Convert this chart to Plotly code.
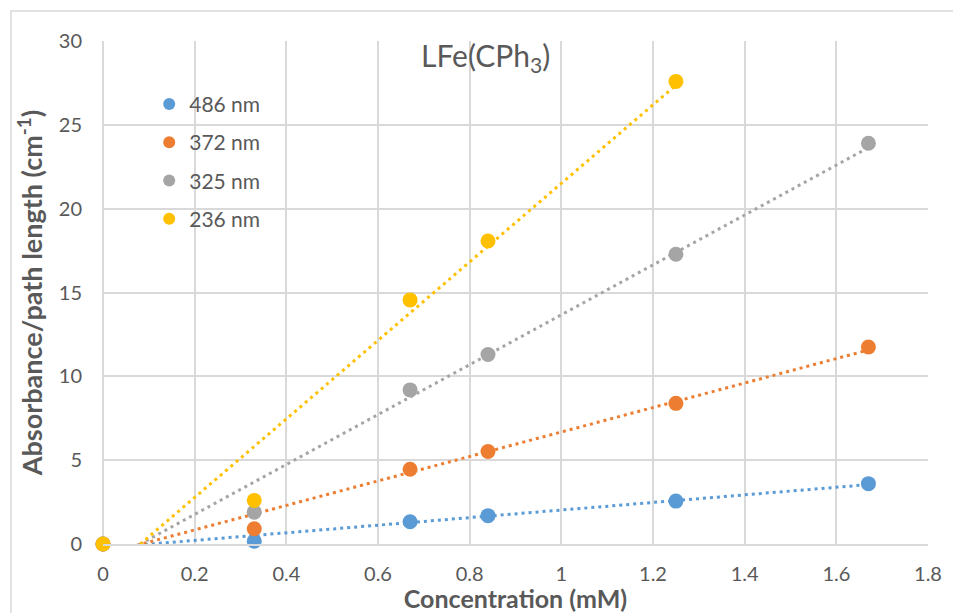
import numpy as np
import plotly.graph_objects as go

# Concentration (mM) for each measured solution
conc = [0, 0.33, 0.67, 0.84, 1.25, 1.67]
conc_236 = [0, 0.33, 0.67, 0.84, 1.25]

# Absorbance / path length (cm^-1) at each wavelength
abs_486 = [0, 0.17, 1.33, 1.69, 2.56, 3.60]
abs_372 = [0, 0.91, 4.46, 5.52, 8.39, 11.75]
abs_325 = [0, 1.90, 9.19, 11.30, 17.28, 23.90]
abs_236 = [0, 2.60, 14.56, 18.07, 27.59]

series = [
    ("486 nm", conc, abs_486, "#5B9BD5"),
    ("372 nm", conc, abs_372, "#ED7D31"),
    ("325 nm", conc, abs_325, "#A5A5A5"),
    ("236 nm", conc_236, abs_236, "#FFC000"),
]

FONT = "Lato, 'Open Sans', sans-serif"
TXT = "#595959"
GRID = "#D9D9D9"

fig = go.Figure()

# Linear least-squares trendlines (drawn first so markers sit on top)
for name, xs, ys, color in series:
    slope, icpt = np.polyfit(xs, ys, 1)
    xl = np.array([0.0, max(xs)])
    fig.add_trace(go.Scatter(
        x=xl, y=slope * xl + icpt, mode="lines",
        line=dict(color=color, width=3, dash="3px,4px"),
        showlegend=False, hoverinfo="skip", cliponaxis=True,
    ))

for name, xs, ys, color in series:
    fig.add_trace(go.Scatter(
        x=xs, y=ys, mode="markers", name=name, legendgroup=name,
        marker=dict(color=color, size=15, line=dict(width=0)),
        cliponaxis=False,
    ))

fig.update_layout(
    width=953, height=613,
    margin=dict(l=103, r=25, t=41, b=69),
    paper_bgcolor="white", plot_bgcolor="white",
    font=dict(family=FONT, color=TXT, size=20),
    legend=dict(
        x=0.056, y=0.915, xanchor="left", yanchor="top",
        bgcolor="rgba(0,0,0,0)", font=dict(size=21, color=TXT),
        tracegroupgap=8, itemsizing="constant",
    ),
    annotations=[dict(
        text="LFe(CPh<sub>3</sub>)", xref="paper", yref="paper",
        x=0.464, y=0.968, xanchor="center", yanchor="middle",
        showarrow=False, font=dict(size=30, color=TXT, family=FONT),
    )],
    shapes=[dict(
        type="rect", xref="paper", yref="paper",
        x0=-0.1115, x1=1.3, y0=-0.3, y1=1.0596,
        line=dict(color=GRID, width=1.5), layer="below",
    )],
)

fig.update_xaxes(
    range=[0, 1.8], dtick=0.2, tick0=0, automargin=False,
    showgrid=True, gridcolor=GRID, gridwidth=1.5,
    zeroline=True, zerolinecolor=GRID, zerolinewidth=1.5,
    showline=True, linecolor=GRID, linewidth=1.5,
    ticks="", ticklabelstandoff=11,
    tickfont=dict(size=20, color=TXT),
    title=dict(text="<b>Concentration (mM)</b>", standoff=4,
               font=dict(size=25, color=TXT)),
)
fig.update_yaxes(
    range=[0, 30], dtick=5, tick0=0, automargin=False,
    showgrid=True, gridcolor=GRID, gridwidth=1.5,
    zeroline=True, zerolinecolor=GRID, zerolinewidth=1.5,
    ticks="", ticklabelstandoff=20,
    tickfont=dict(size=20, color=TXT),
    title=dict(text="<b>Absorbance/path length (cm<sup>-1</sup>)</b>", standoff=8,
               font=dict(size=27, color=TXT)),
)

fig.write_html("out.html")
